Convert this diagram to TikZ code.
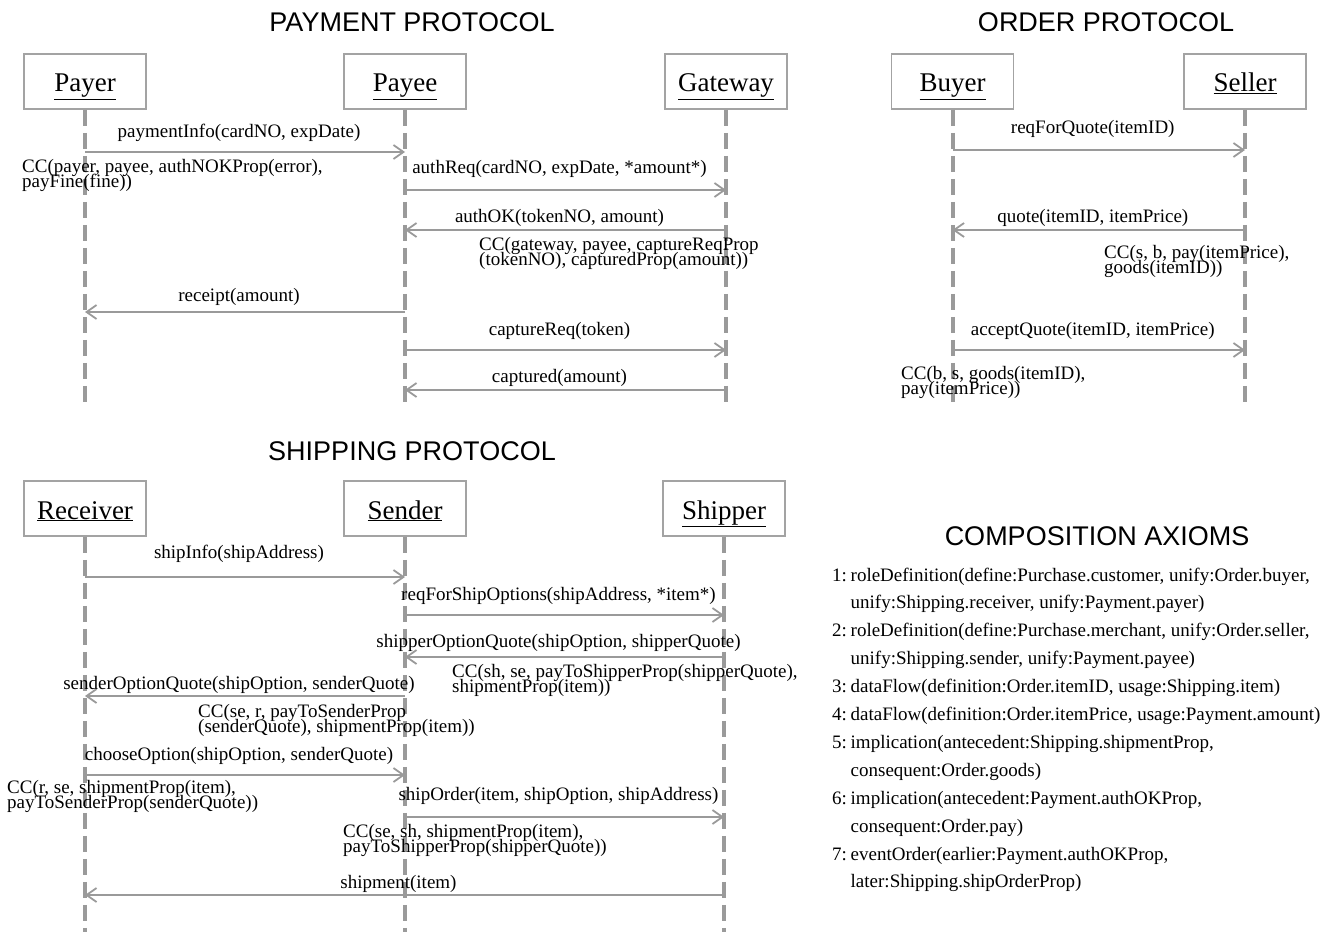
\documentclass[tikz,border=0pt]{standalone}
\usepackage{fontspec}
\setmainfont{Liberation Serif}
\setsansfont{Liberation Sans}
\usepackage{xcolor}
\usetikzlibrary{arrows.meta,positioning,calc}

\definecolor{linegray}{HTML}{9A9A9A}
\definecolor{boxgray}{HTML}{A3A3A3}
\newcommand{\msgfont}{\fontsize{19}{14}\selectfont}
\newcommand{\ccfont}{\fontsize{19}{15}\selectfont\lineskiplimit=-30pt}

\tikzset{
  actor/.style={draw=boxgray, line width=1.6pt, minimum width=122pt, minimum height=55pt,
                inner sep=0pt, text height=24pt, text depth=3pt, font=\fontsize{27}{27}\selectfont},
  lifeline/.style={draw=linegray, line width=4pt, dash pattern=on 16pt off 7pt},
  msg/.style={draw=linegray, line width=1.8pt, -{Straight Barb[length=10pt,width=14pt]}},
  lbl/.style={inner sep=0pt, font=\msgfont, xshift=-6pt},
  cc/.style={inner sep=0pt, anchor=north west, align=left, font=\ccfont},
  title/.style={font=\sffamily\fontsize{27}{27}\selectfont, anchor=base},
}

\begin{document}
\begin{tikzpicture}[x=1pt, y=-1pt]
    \useasboundingbox (0,0) rectangle (1324,934);

    % Titles
    \node[title] (payTitle) at (412,32) {PAYMENT PROTOCOL};
    \node[title] (ordTitle) at (1106,32) {ORDER PROTOCOL};
    \node[title] (shipTitle) at (412,460) {SHIPPING PROTOCOL};
    \node[title] (axTitle) at (1097,545) {COMPOSITION AXIOMS};

    % Payment roles
    \node[actor] (payer) at (85,81.5) {\underline{Payer}};
    \node[actor] (payee) at (405,81.5) {\underline{Payee}};
    \node[actor] (gateway) at (726,81.5) {\underline{Gateway}};
    \draw[lifeline] (payer.south) -- (payer |- 0,408);
    \draw[lifeline] (payee.south) -- (payee |- 0,408);
    \draw[lifeline] (gateway.south) -- (gateway |- 0,408);

    % Payment messages
    \draw[msg] (payer |- 0,152) -- node[lbl, yshift=19.5pt] (mPayInfo) {paymentInfo(cardNO, expDate)} (payee |- 0,152);
    \draw[msg] (payee |- 0,190) -- node[lbl, yshift=21.5pt] (mAuthReq) {authReq(cardNO, expDate, *amount*)} (gateway |- 0,190);
    \draw[msg] (gateway |- 0,230) -- node[lbl, yshift=12.5pt] (mAuthOK) {authOK(tokenNO, amount)} (payee |- 0,230);
    \draw[msg] (payee |- 0,312) -- node[lbl, yshift=15pt] (mReceipt) {receipt(amount)} (payer |- 0,312);
    \draw[msg] (payee |- 0,350) -- node[lbl, yshift=19.5pt] (mCapReq) {captureReq(token)} (gateway |- 0,350);
    \draw[msg] (gateway |- 0,390) -- node[lbl, yshift=12.5pt] (mCaptured) {captured(amount)} (payee |- 0,390);

    % Payment commitments
    \node[cc] (ccPayer) at (22,159.5) {CC(payer, payee, authNOKProp(error),\\payFine(fine))};
    \node[cc] (ccGateway) at (479,237.5) {CC(gateway, payee, captureReqProp\\(tokenNO), capturedProp(amount))};

    % Order roles
    \node[actor] (buyer) at (952.5,81.5) {\underline{Buyer}};
    \node[actor] (seller) at (1245,81.5) {\underline{Seller}};
    \draw[lifeline] (buyer.south) -- (buyer |- 0,408);
    \draw[lifeline] (seller.south) -- (seller |- 0,408);

    % Order messages
    \draw[msg] (buyer |- 0,150) -- node[lbl, yshift=21.5pt] (mReqQuote) {reqForQuote(itemID)} (seller |- 0,150);
    \draw[msg] (seller |- 0,230) -- node[lbl, yshift=12.5pt] (mQuote) {quote(itemID, itemPrice)} (buyer |- 0,230);
    \draw[msg] (buyer |- 0,350) -- node[lbl, yshift=19.5pt] (mAccept) {acceptQuote(itemID, itemPrice)} (seller |- 0,350);
    \node[cc] (ccSeller) at (1104,245.5) {CC(s, b, pay(itemPrice),\\goods(itemID))};
    \node[cc] (ccBuyer) at (901,366.5) {CC(b, s, goods(itemID),\\pay(itemPrice))};

    % Shipping roles
    \node[actor] (receiver) at (85,508.5) {\underline{Receiver}};
    \node[actor] (sender) at (405,508.5) {\underline{Sender}};
    \node[actor] (shipper) at (724,508.5) {\underline{Shipper}};
    \draw[lifeline] (receiver.south) -- (receiver |- 0,932);
    \draw[lifeline] (sender.south) -- (sender |- 0,932);
    \draw[lifeline] (shipper.south) -- (shipper |- 0,932);

    % Shipping messages
    \draw[msg] (receiver |- 0,577) -- node[lbl, yshift=23.5pt] (mShipInfo) {shipInfo(shipAddress)} (sender |- 0,577);
    \draw[msg] (sender |- 0,615) -- node[lbl, yshift=19.5pt] (mReqOpt) {reqForShipOptions(shipAddress, *item*)} (shipper |- 0,615);
    \draw[msg] (shipper |- 0,657) -- node[lbl, yshift=14.5pt] (mShipperQuote) {shipperOptionQuote(shipOption, shipperQuote)} (sender |- 0,657);
    \draw[msg] (sender |- 0,696) -- node[lbl, yshift=11.5pt] (mSenderQuote) {senderOptionQuote(shipOption, senderQuote)} (receiver |- 0,696);
    \draw[msg] (receiver |- 0,775) -- node[lbl, yshift=19.5pt] (mChoose) {chooseOption(shipOption, senderQuote)} (sender |- 0,775);
    \draw[msg] (sender |- 0,817) -- node[lbl, yshift=21.5pt] (mShipOrder) {shipOrder(item, shipOption, shipAddress)} (shipper |- 0,817);
    \draw[msg] (shipper |- 0,895) -- node[lbl, yshift=11.5pt] (mShipment) {shipment(item)} (receiver |- 0,895);

    % Shipping commitments
    \node[cc] (ccShipper) at (452,664.5) {CC(sh, se, payToShipperProp(shipperQuote),\\shipmentProp(item))};
    \node[cc] (ccSenderR) at (198,704.5) {CC(se, r, payToSenderProp\\(senderQuote), shipmentProp(item))};
    \node[cc] (ccReceiver) at (7,780.5) {CC(r, se, shipmentProp(item),\\payToSenderProp(senderQuote))};
    \node[cc] (ccSenderSh) at (343,824.5) {CC(se, sh, shipmentProp(item),\\payToShipperProp(shipperQuote))};

    % Composition axioms
    \node[inner sep=0pt, anchor=north west, align=left, font=\fontsize{19}{27.9}\selectfont] (axioms) at (832,567.5) {%
      \makebox[18.5pt][l]{1:}roleDefinition(define:Purchase.customer, unify:Order.buyer,\\
      \hspace*{18.5pt}unify:Shipping.receiver, unify:Payment.payer)\\
      \makebox[18.5pt][l]{2:}roleDefinition(define:Purchase.merchant, unify:Order.seller,\\
      \hspace*{18.5pt}unify:Shipping.sender, unify:Payment.payee)\\
      \makebox[18.5pt][l]{3:}dataFlow(definition:Order.itemID, usage:Shipping.item)\\
      \makebox[18.5pt][l]{4:}dataFlow(definition:Order.itemPrice, usage:Payment.amount)\\
      \makebox[18.5pt][l]{5:}implication(antecedent:Shipping.shipmentProp,\\
      \hspace*{18.5pt}consequent:Order.goods)\\
      \makebox[18.5pt][l]{6:}implication(antecedent:Payment.authOKProp,\\
      \hspace*{18.5pt}consequent:Order.pay)\\
      \makebox[18.5pt][l]{7:}eventOrder(earlier:Payment.authOKProp,\\
      \hspace*{18.5pt}later:Shipping.shipOrderProp)};
\end{tikzpicture}
\end{document}
